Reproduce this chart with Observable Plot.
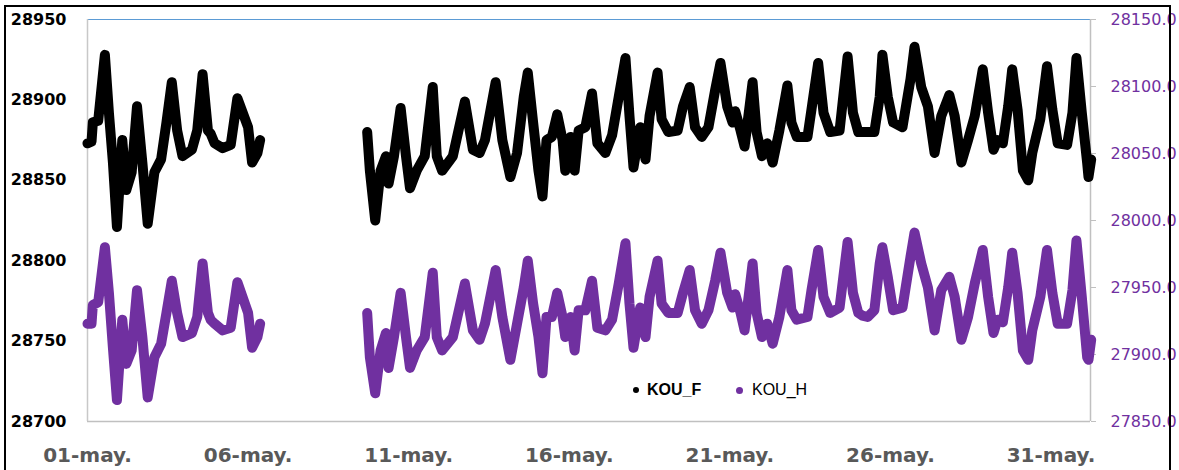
<!DOCTYPE html>
<html>
<head>
<meta charset="utf-8">
<script src="https://cdn.jsdelivr.net/npm/d3@7"></script>
<script src="https://cdn.jsdelivr.net/npm/@observablehq/plot@0.6"></script>
<style>
  html, body { margin: 0; padding: 0; background: #fff; }
  #wrap { position: relative; width: 1179px; height: 470px; overflow: hidden; }
  #frame { position: absolute; left: 4px; top: 5px; width: 1167px; height: 480px; border: 2px solid #000; box-sizing: border-box; pointer-events: none; }
  .leg { position: absolute; top: 380px; font-family: "Liberation Sans", Arial, sans-serif; font-size: 16px; line-height: 20px; color: #000; }
  .dot { position: absolute; border-radius: 50%; }
</style>
</head>
<body>
<div id="wrap">
  <div id="chart"></div>
  <div id="frame"></div>
  <div class="dot" style="left:633px;top:387px;width:6px;height:6px;background:#000;"></div>
  <div class="leg" style="left:647px;font-weight:bold;">KOU_F</div>
  <div class="dot" style="left:736px;top:387px;width:7px;height:7px;background:#7030a0;"></div>
  <div class="leg" style="left:752px;">KOU_H</div>
</div>
<script>
// ---- data (hours since 01-may 00:00; null = no data) ----
const hours = [
  0,3,4,8,13,16,19,22,26,29,33,37,41,45,50,55,59,63,67,71,78,82,86,90,92,95,101,107,112,120,123,127,129,
  170,
  209,211,215,219,223,225,229,234,238,241,246,252,258,261,265,273,282,288,293,297,305,310,316,321,326,329,
  333,337,340,343,347,351,355,357,361,364,367,372,377,381,387,392,397,402,405,408,413,417,420,426,429,434,
  441,445,450,454,459,464,469,473,478,482,484,488,491,497,500,504,508,512,517,523,526,530,538,541,546,550,
  555,562,568,572,576,579,583,588,592,594,598,602,609,615,618,623,628,633,638,644,648,653,658,663,669,673,
  677,680,684,688,691,695,699,703,706,712,717,721,725,732,736,739,743,747,748,750
];
const kouF = [
  28873,28874,28886,28887,28928,28892,28861,28821,28875,28844,28855,28896,28861,28823,28855,28863,28886,28911,28881,28865,28869,28881,28916,28881,28879,28873,28870,28872,28901,28883,28861,28867,28875,
  null,
  28880,28856,28825,28856,28865,28848,28865,28895,28865,28845,28856,28865,28908,28865,28856,28865,28899,28869,28867,28875,28911,28875,28852,28867,28902,28917,
  28886,28856,28840,28875,28877,28891,28875,28856,28877,28856,28881,28883,28904,28873,28867,28878,28902,28926,28890,28858,28883,28863,28890,28917,28888,28880,
  28881,28896,28908,28883,28877,28883,28906,28923,28896,28886,28893,28881,28871,28911,28880,28865,28873,28861,28881,28909,28886,28877,28877,28894,28923,28892,
  28880,28881,28927,28892,28880,28880,28880,28880,28902,28928,28902,28886,28883,28913,28933,28908,28896,28867,28890,28903,28890,28861,28875,28890,28919,28892,
  28869,28875,28873,28896,28919,28894,28856,28850,28867,28888,28921,28894,28873,28872,28892,28926,28892,28861,28852,28863
];
const kouH = [
  27923,27923,27937,27939,27980,27946,27905,27866,27926,27893,27903,27948,27913,27868,27898,27908,27931,27955,27931,27913,27916,27928,27968,27931,27926,27923,27918,27920,27954,27931,27905,27913,27923,
  null,
  27931,27898,27871,27903,27916,27890,27913,27946,27913,27890,27903,27913,27961,27913,27903,27913,27953,27918,27911,27923,27963,27928,27896,27923,27950,27970,
  27938,27913,27886,27928,27928,27946,27928,27913,27928,27903,27933,27933,27955,27920,27918,27926,27953,27983,27938,27905,27935,27913,27943,27970,27938,27931,
  27931,27946,27963,27933,27923,27933,27955,27976,27946,27935,27945,27931,27918,27968,27931,27913,27923,27908,27928,27963,27933,27926,27928,27948,27978,27943,
  27931,27935,27984,27946,27931,27929,27928,27933,27968,27980,27958,27933,27935,27973,27991,27968,27950,27918,27948,27958,27943,27911,27928,27953,27978,27943,
  27916,27926,27924,27950,27976,27946,27903,27896,27918,27943,27978,27946,27923,27923,27948,27985,27943,27898,27896,27911
];

// ---- axes ----
const leftTicks  = [28700, 28750, 28800, 28850, 28900, 28950];
const rightTicks = [27850, 27900, 27950, 28000, 28050, 28100, 28150];
const xTickDays   = [1, 6, 11, 16, 21, 26, 31];
const xTickLabels = ["01-may.", "06-may.", "11-may.", "16-may.", "21-may.", "26-may.", "31-may."];
const lastHour = 749.5;

// ---- build ----
const start = Date.UTC(2021, 4, 1);
const HOUR = 3600e3;
const lMin = leftTicks[0], lMax = leftTicks[leftTicks.length - 1];
const rMin = rightTicks[0], rMax = rightTicks[rightTicks.length - 1];
const toLeft = v => v == null ? null : lMin + (v - rMin) * (lMax - lMin) / (rMax - rMin);
const fromLeft = v => rMin + (v - lMin) * (rMax - rMin) / (lMax - lMin);

const rows = hours.map((h, i) => ({
  date: new Date(start + h * HOUR),
  f: kouF[i],
  h: toLeft(kouH[i])
}));
const xTicks = xTickDays.map(d => new Date(Date.UTC(2021, 4, d)));
const labelOf = new Map(xTicks.map((d, i) => [+d, xTickLabels[i]]));
const x0 = new Date(start), x1 = new Date(start + lastHour * HOUR);

const lineOpts = { x: "date", strokeWidth: 10, strokeLinejoin: "round", strokeLinecap: "round" };

const chart = Plot.plot({
  width: 1179,
  height: 470,
  marginLeft: 87,
  marginRight: 89,
  marginTop: 19,
  marginBottom: 49,
  style: { fontFamily: "DejaVu Sans", background: "transparent" },
  x: { type: "utc", domain: [x0, x1] },
  y: { domain: [lMin, lMax] },
  marks: [
    Plot.ruleY([lMax], { stroke: "#5b9bd5", strokeWidth: 1.2 }),
    Plot.ruleY([lMin], { stroke: "#c0c0c0", strokeWidth: 1.5 }),
    Plot.ruleX([x0], { stroke: "#c8c8c8", strokeWidth: 1.5 }),
    Plot.ruleX([x1], { stroke: "#c0c0c0", strokeWidth: 1.5 }),
    Plot.axisY(leftTicks, {
      anchor: "left", tickSize: 0, tickPadding: 21,
      tickFormat: d => String(d),
      fontSize: 16, fontWeight: "bold", fill: "#000", label: null
    }),
    Plot.axisY(rightTicks.map(toLeft), {
      anchor: "right", tickSize: 5, tickPadding: 15, stroke: "#c0c0c0",
      tickFormat: d => fromLeft(d).toFixed(1),
      fontSize: 16, fill: "#7030a0", label: null
    }),
    Plot.axisX(xTicks, {
      anchor: "bottom", tickSize: 0, tickPadding: 26,
      tickFormat: d => labelOf.get(+d),
      fontSize: 20, fontWeight: "bold", fill: "#595959", label: null
    }),
    Plot.line(rows, { ...lineOpts, y: "f", stroke: "#000" }),
    Plot.line(rows, { ...lineOpts, y: "h", stroke: "#7030a0" })
  ]
});
document.getElementById("chart").appendChild(chart);
</script>
</body>
</html>
